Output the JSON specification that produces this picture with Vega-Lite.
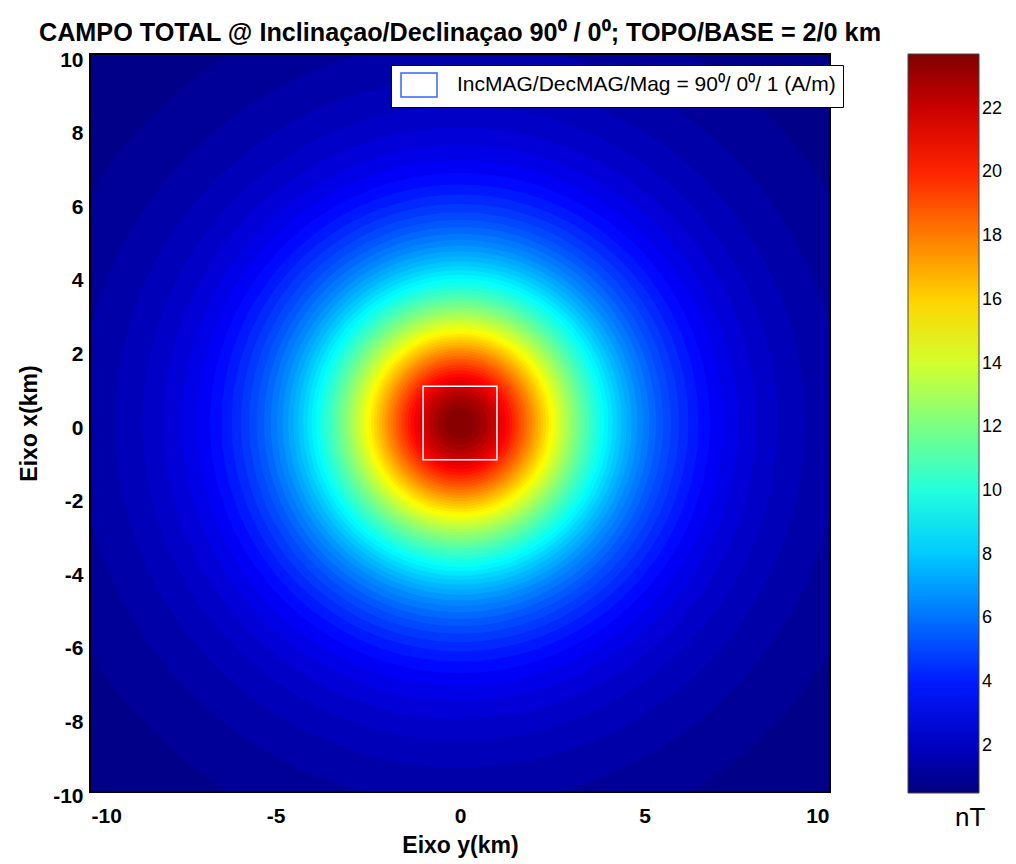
{
  "$schema": "https://vega.github.io/schema/vega-lite/v6.json",
  "width": 738,
  "height": 736,
  "autosize": {"type": "none"},
  "padding": {"left": 91, "top": 55, "right": 187, "bottom": 73},
  "background": "white",
  "config": {
    "view": {"stroke": "black", "strokeWidth": 4},
    "font": "Liberation Sans",
    "axis": {
      "domain": false, "ticks": false, "grid": false,
      "labelFont": "Liberation Sans", "labelFontWeight": "bold", "labelFontSize": 21, "labelColor": "black",
      "labelExpr": "'' + datum.value",
      "titleFont": "Liberation Sans", "titleFontWeight": "bold", "titleFontSize": 23, "titleColor": "black"
    }
  },
  "title": {
    "text": "CAMPO TOTAL  @ Inclinaçao/Declinaçao 90⁰ / 0⁰; TOPO/BASE = 2/0 km",
    "font": "Liberation Sans", "fontSize": 25.2, "fontWeight": "bold", "color": "black",
    "anchor": "middle", "offset": 12, "dy": 9
  },
  "datasets": {
    "rings": [
      {"r": 14.3, "v": 0.70}, {"r": 11.80, "v": 1.06}, {"r": 10.35, "v": 1.43}, {"r": 9.359, "v": 1.79},
      {"r": 8.618, "v": 2.15}, {"r": 8.031, "v": 2.51}, {"r": 7.548, "v": 2.88}, {"r": 7.139, "v": 3.24},
      {"r": 6.785, "v": 3.60}, {"r": 6.474, "v": 3.96}, {"r": 6.197, "v": 4.33}, {"r": 5.946, "v": 4.69},
      {"r": 5.719, "v": 5.05}, {"r": 5.510, "v": 5.41}, {"r": 5.317, "v": 5.78}, {"r": 5.138, "v": 6.14},
      {"r": 4.970, "v": 6.50}, {"r": 4.813, "v": 6.86}, {"r": 4.664, "v": 7.23}, {"r": 4.524, "v": 7.59},
      {"r": 4.391, "v": 7.95}, {"r": 4.263, "v": 8.31}, {"r": 4.142, "v": 8.68}, {"r": 4.025, "v": 9.04},
      {"r": 3.913, "v": 9.40}, {"r": 3.806, "v": 9.76}, {"r": 3.702, "v": 10.13}, {"r": 3.601, "v": 10.49},
      {"r": 3.503, "v": 10.85}, {"r": 3.408, "v": 11.21}, {"r": 3.316, "v": 11.58}, {"r": 3.226, "v": 11.94},
      {"r": 3.138, "v": 12.30}, {"r": 3.053, "v": 12.66}, {"r": 2.968, "v": 13.03}, {"r": 2.886, "v": 13.39},
      {"r": 2.805, "v": 13.75}, {"r": 2.725, "v": 14.11}, {"r": 2.646, "v": 14.48}, {"r": 2.569, "v": 14.84},
      {"r": 2.492, "v": 15.20}, {"r": 2.416, "v": 15.56}, {"r": 2.340, "v": 15.93}, {"r": 2.265, "v": 16.29},
      {"r": 2.190, "v": 16.65}, {"r": 2.116, "v": 17.01}, {"r": 2.041, "v": 17.38}, {"r": 1.967, "v": 17.74},
      {"r": 1.892, "v": 18.10}, {"r": 1.817, "v": 18.46}, {"r": 1.741, "v": 18.83}, {"r": 1.664, "v": 19.19},
      {"r": 1.586, "v": 19.55}, {"r": 1.507, "v": 19.91}, {"r": 1.425, "v": 20.28}, {"r": 1.342, "v": 20.64},
      {"r": 1.256, "v": 21.00}, {"r": 1.165, "v": 21.36}, {"r": 1.071, "v": 21.73}, {"r": 0.970, "v": 22.09},
      {"r": 0.860, "v": 22.45}, {"r": 0.738, "v": 22.81}, {"r": 0.596, "v": 23.18}, {"r": 0.413, "v": 23.54}
    ],
    "prism": [
      {"x1": -1, "x2": 1, "y1": -1, "y2": 1, "label": "IncMAG/DecMAG/Mag = 90⁰/ 0⁰/ 1 (A/m)"}
    ]
  },
  "layer": [
    {
      "data": {"name": "prism"},
      "mark": {"type": "point", "filled": false, "opacity": 1, "size": 4, "strokeWidth": 1.5},
      "encoding": {
        "x": {"datum": 0, "type": "quantitative", "axis": {"title": "Eixo y(km)"}},
        "y": {"datum": 0, "type": "quantitative", "axis": {"title": "Eixo x(km)"}},
        "stroke": {"field": "label", "type": "nominal",
                   "scale": {"range": ["#3366ff"]},
                   "legend": {"orient": "none", "legendX": 300, "legendY": 10, "title": null,
                              "fillColor": "white", "strokeColor": "black", "padding": 7,
                              "symbolType": "M-1.5,-1H1.5V1H-1.5Z", "symbolSize": 576, "symbolStrokeWidth": 1.5,
                              "symbolFillColor": "transparent", "symbolStrokeColor": "#3366ff", "symbolOffset": 8,
                              "labelFont": "Liberation Sans", "labelFontSize": 21, "labelColor": "black",
                              "labelOffset": 25, "labelLimit": 600}}
      }
    },
    {
      "data": {"name": "rings"},
      "mark": {"type": "point", "shape": "circle", "filled": true, "opacity": 1, "strokeWidth": 0, "clip": true},
      "encoding": {
        "x": {"datum": 0, "type": "quantitative",
              "scale": {"domain": [-10, 10], "nice": false, "zero": false},
              "axis": {"title": "Eixo y(km)", "values": [-10, -5, 0, 5, 10], "labelPadding": 14, "titlePadding": 8}},
        "y": {"datum": 0, "type": "quantitative",
              "scale": {"domain": [-10, 10], "nice": false, "zero": false},
              "axis": {"title": "Eixo x(km)", "values": [-10, -8, -6, -4, -2, 0, 2, 4, 6, 8, 10], "labelPadding": 8, "labelOffset": 5, "titlePadding": 11}},
        "size": {"field": "r", "type": "quantitative",
                 "scale": {"type": "pow", "exponent": 2, "domain": [0, 14.3], "range": [0, 1110700]},
                 "legend": null},
        "color": {"field": "v", "type": "quantitative",
                  "scale": {"domain": [0.52, 3.42, 9.22, 15.02, 20.82, 23.72],
                            "range": ["#000080", "#0000ff", "#00ffff", "#ffff00", "#ff0000", "#800000"],
                            "interpolate": "rgb"},
                  "legend": {"orient": "none", "legendX": 817, "legendY": -1, "direction": "vertical",
                             "gradientLength": 739, "gradientThickness": 71,
                             "gradientStrokeColor": "#444444", "gradientStrokeWidth": 1,
                             "values": [2, 4, 6, 8, 10, 12, 14, 16, 18, 20, 22],
                             "labelFont": "Liberation Sans", "labelFontSize": 18, "labelColor": "black", "labelOffset": 3,
                             "title": "nT", "titleOrient": "bottom", "titleFont": "Liberation Sans", "titleFontSize": 26,
                             "titleFontWeight": "normal", "titleColor": "black", "titlePadding": 11,
                             "titleAnchor": "middle", "titleAlign": "left"}},
        "order": {"field": "r", "sort": "descending"}
      }
    },
    {
      "data": {"name": "prism"},
      "mark": {"type": "rect", "filled": false, "stroke": "white", "strokeWidth": 1.5},
      "encoding": {
        "x": {"field": "y1", "type": "quantitative", "axis": {"title": "Eixo y(km)"}},
        "x2": {"field": "y2"},
        "y": {"field": "x1", "type": "quantitative", "axis": {"title": "Eixo x(km)"}},
        "y2": {"field": "x2"}
      }
    }
  ]
}
